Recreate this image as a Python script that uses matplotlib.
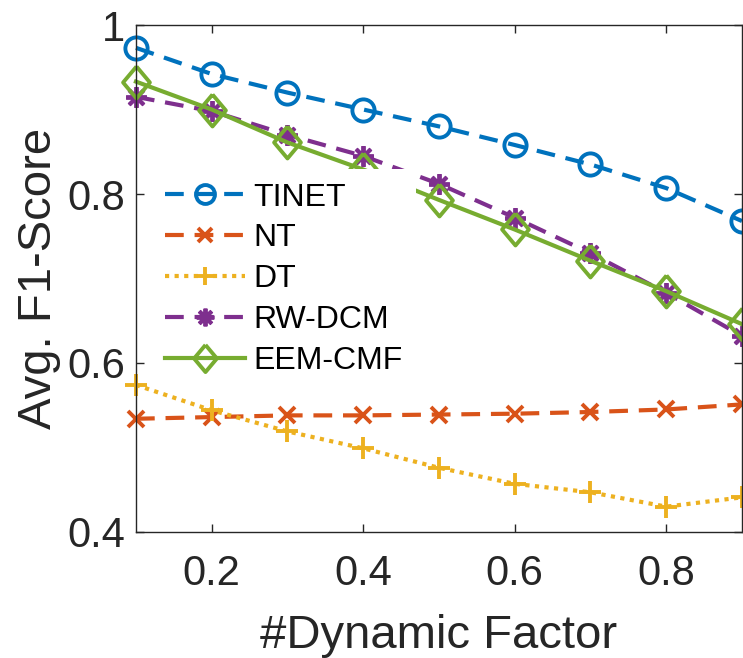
import numpy as np
import matplotlib
matplotlib.use("Agg")
import matplotlib.pyplot as plt

# data
factor = [0.1, 0.2, 0.3, 0.4, 0.5, 0.6, 0.7, 0.8, 0.9]
tinet = [0.973, 0.942, 0.920, 0.900, 0.880, 0.858, 0.835, 0.807, 0.768]
nt = [0.534, 0.536, 0.538, 0.538, 0.539, 0.540, 0.542, 0.545, 0.551]
dt = [0.574, 0.544, 0.519, 0.499, 0.476, 0.457, 0.447, 0.430, 0.441]
rw_dcm = [0.915, 0.898, 0.870, 0.845, 0.812, 0.772, 0.730, 0.683, 0.632]
eem_cmf = [0.933, 0.900, 0.861, 0.829, 0.793, 0.758, 0.721, 0.685, 0.646]

xticks = [0.2, 0.4, 0.6, 0.8]
yticks = [0.4, 0.6, 0.8, 1.0]
ytick_labels = ["0.4", "0.6", "0.8", "1"]

plt.rcParams['font.family'] = ['Liberation Sans', 'DejaVu Sans']

fig = plt.figure(figsize=(7.43, 6.58), dpi=100)
ax = fig.add_axes([0.183, 0.1915, 0.8156, 0.7705])

lw = 3.0
common = dict(lw=lw, clip_on=False, mew=2.8, mfc='none')
# slightly wide diamond, like the MATLAB one
diamond = [(0, 0.5), (0.42, 0), (0, -0.5), (-0.42, 0), (0, 0.5)]

ax.plot(factor, tinet, color='#0072BD', ls='--', dashes=(4.5, 2.6), marker='o', ms=16, label='TINET', **common)
ax.plot(factor, nt, color='#D95319', ls='--', dashes=(4.5, 2.6), marker='x', ms=12, label='NT', **common)
ax.plot(factor, dt, color='#EDB120', ls=':', dashes=(1.0, 1.3), marker='+', ms=16, label='DT', **common)
ax.plot(factor, rw_dcm, color='#7E2F8E', ls='--', dashes=(4.5, 2.6), marker=(8, 2, 0), ms=15, label='RW-DCM', **common)
ax.plot(factor, eem_cmf, color='#77AC30', ls='-', marker=diamond, ms=23, label='EEM-CMF', **common)

ax.set_xlim(0.1, 0.9)
ax.set_ylim(0.4, 1.0)
ax.set_xticks(xticks)
ax.set_xticklabels([f"{v:.1f}" for v in xticks])
ax.set_yticks(yticks)
ax.set_yticklabels(ytick_labels)

ax.tick_params(direction='in', top=True, right=True, length=6, width=1,
               labelsize=30, colors='#262626')
ax.tick_params(axis='x', pad=16)
ax.tick_params(axis='y', pad=8)
for s in ax.spines.values():
    s.set_color('#262626')
    s.set_linewidth(1)

ax.set_xlabel('#Dynamic Factor', fontsize=34, color='#262626', labelpad=14)
ax.set_ylabel('Avg. F1-Score', fontsize=34, color='#262626', labelpad=4)

leg = ax.legend(loc='upper left', bbox_to_anchor=(0.2046, 0.743), bbox_transform=fig.transFigure,
                fontsize=23, frameon=True, fancybox=False, edgecolor='white', framealpha=1,
                borderaxespad=0, borderpad=0.42, handlelength=2.5, handletextpad=0.25,
                labelspacing=0.34, markerscale=0.85)
leg.get_frame().set_linewidth(0)

fig.savefig('out.png', dpi=100)
